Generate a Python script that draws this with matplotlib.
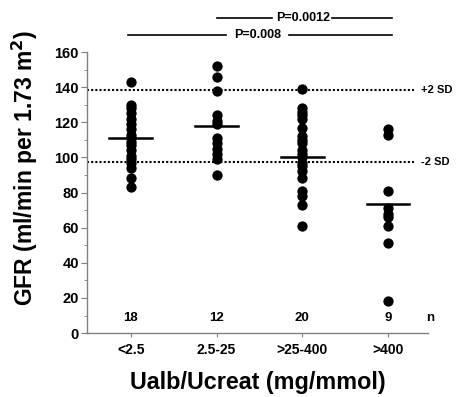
import matplotlib
matplotlib.use("Agg")
import matplotlib.pyplot as plt
from matplotlib.ticker import MultipleLocator

plt.rcParams["font.family"] = ["Liberation Sans", "DejaVu Sans"]
plt.rcParams["font.weight"] = "bold"

# ── data ─────────────────────────────────────────────
categories = ["<2.5", "2.5-25", ">25-400", ">400"]
n_counts = [18, 12, 20, 9]
gfr_lt25 = [143, 130, 128, 125, 122, 119, 116, 113, 111, 109, 107, 104,
            101, 99, 97, 94, 88, 83]
gfr_25_25 = [152, 146, 138, 124, 121, 119, 111, 108, 105, 102, 99, 90]
gfr_25_400 = [139, 128, 126, 124, 122, 117, 112, 110, 108, 104, 102, 100,
              97, 95, 92, 88, 81, 78, 73, 61]
gfr_gt400 = [116, 113, 81, 71, 68, 66, 61, 51, 18]
group_means = [111, 118, 100.5, 73.5]
sd_upper = 138.3
sd_lower = 97.5
p_values = ["P=0.008", "P=0.0012"]

groups = [gfr_lt25, gfr_25_25, gfr_25_400, gfr_gt400]

fig = plt.figure(figsize=(4.66, 3.97), dpi=100)
ax = fig.add_axes([0.187, 0.161, 0.731, 0.708])

for i, vals in enumerate(groups):
    ax.scatter([i] * len(vals), vals, s=55, color="black", zorder=3,
               linewidths=0)
    ax.plot([i - 0.25, i + 0.25], [group_means[i]] * 2, color="black",
            lw=1.8, zorder=4)
    ax.text(i, 5, str(n_counts[i]), ha="center", va="bottom", fontsize=9.5,
            fontweight="bold")
ax.text(3.49, 5, "n", ha="center", va="bottom", fontsize=9.5,
        fontweight="bold", clip_on=False)

# reference band
for yv, lab in [(sd_upper, "+2 SD"), (sd_lower, "-2 SD")]:
    ax.plot([-0.51, 3.3], [yv, yv], color="black", lw=1.5,
            linestyle=(0, (1, 1)), zorder=2, clip_on=False)
    ax.text(3.38, yv, lab, ha="left", va="center", fontsize=8,
            fontweight="bold", clip_on=False)

# significance brackets: (left, gap start, gap end, right, y, text x)
brackets = [(-0.035, 1.11, 1.85, 3.05, 169.5, 1.48),
            (1.01, 1.65, 2.35, 3.05, 179.3, 2.01)]
for (x0, g0, g1, x1, yb, xt), lab in zip(brackets, p_values):
    ax.plot([x0, g0], [yb, yb], color="black", lw=1.2, clip_on=False)
    ax.plot([g1, x1], [yb, yb], color="black", lw=1.2, clip_on=False)
    ax.text(xt, yb, lab, ha="center", va="center", fontsize=9,
            fontweight="bold", clip_on=False)

ax.set_xlim(-0.51, 3.465)
ax.set_ylim(0, 160)
ax.set_xticks(range(len(categories)))
ax.set_xticklabels(categories, fontsize=10, fontweight="bold")
ax.yaxis.set_major_locator(MultipleLocator(20))
ax.yaxis.set_minor_locator(MultipleLocator(10))
for lab in ax.get_yticklabels():
    lab.set_fontweight("bold")
ax.tick_params(axis="y", labelsize=10.5, length=4, color="#808080", pad=2)
ax.tick_params(axis="y", which="minor", length=2.5, color="#808080")
ax.tick_params(axis="x", length=3, color="#808080", pad=4)

for side in ["top", "right"]:
    ax.spines[side].set_visible(False)
for side in ["left", "bottom"]:
    ax.spines[side].set_color("#808080")
    ax.spines[side].set_linewidth(1)

fig.text(25 / 466, 1 - 168 / 397, "GFR (ml/min per 1.73 m$^\\mathbf{2}$)",
         rotation=90, ha="center", va="center", fontsize=16.5,
         fontweight="bold")
fig.text(258 / 466, 1 - 383 / 397, "Ualb/Ucreat (mg/mmol)", ha="center",
         va="center", fontsize=16.8, fontweight="bold")

fig.savefig("out.png", dpi=100, facecolor="white")
